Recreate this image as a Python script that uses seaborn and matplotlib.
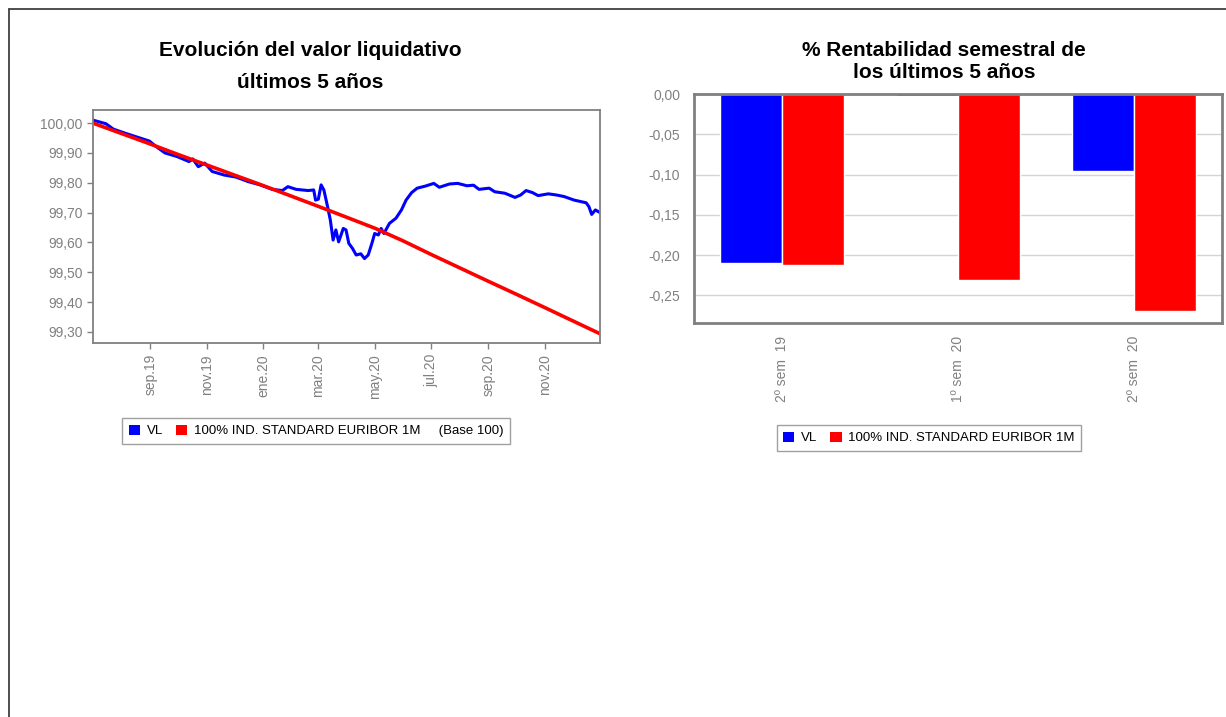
import numpy as np
import pandas as pd
import seaborn as sns
import matplotlib.pyplot as plt
from matplotlib.patches import Patch
from matplotlib.lines import Line2D
from matplotlib.ticker import FuncFormatter, FixedLocator

# valor liquidativo (VL)
vl_dates = ["2019-07-01", "2019-07-15", "2019-07-23", "2019-08-05", "2019-08-18", "2019-08-31",
            "2019-09-08", "2019-09-17", "2019-09-30", "2019-10-13", "2019-10-17", "2019-10-23",
            "2019-10-30", "2019-11-07", "2019-11-20", "2019-12-03", "2019-12-16", "2019-12-29",
            "2020-01-11", "2020-01-22", "2020-01-28", "2020-02-06", "2020-02-19", "2020-02-25",
            "2020-02-27", "2020-03-01", "2020-03-04", "2020-03-07", "2020-03-11", "2020-03-14",
            "2020-03-17", "2020-03-20", "2020-03-23", "2020-03-28", "2020-03-31", "2020-04-03",
            "2020-04-07", "2020-04-11", "2020-04-16", "2020-04-20", "2020-04-24", "2020-04-28",
            "2020-05-01", "2020-05-05", "2020-05-08", "2020-05-11", "2020-05-17", "2020-05-24",
            "2020-05-30", "2020-06-04", "2020-06-10", "2020-06-16", "2020-06-25", "2020-07-04",
            "2020-07-10", "2020-07-21", "2020-07-30", "2020-08-09", "2020-08-16", "2020-08-22",
            "2020-09-02", "2020-09-08", "2020-09-19", "2020-09-30", "2020-10-06", "2020-10-12",
            "2020-10-19", "2020-10-25", "2020-11-05", "2020-11-14", "2020-11-22", "2020-12-03",
            "2020-12-16", "2020-12-19", "2020-12-22", "2020-12-26", "2020-12-31"]
vl_values = [100.010, 99.998, 99.980, 99.966, 99.953, 99.940,
             99.920, 99.900, 99.888, 99.871, 99.880, 99.854,
             99.866, 99.838, 99.826, 99.819, 99.804, 99.793,
             99.778, 99.774, 99.787, 99.778, 99.774, 99.776,
             99.742, 99.745, 99.793, 99.776, 99.720, 99.675,
             99.608, 99.642, 99.602, 99.647, 99.642, 99.597,
             99.580, 99.558, 99.562, 99.546, 99.558, 99.597,
             99.630, 99.625, 99.647, 99.630, 99.664, 99.681,
             99.709, 99.742, 99.767, 99.782, 99.789, 99.798,
             99.785, 99.796, 99.798, 99.790, 99.792, 99.778,
             99.782, 99.770, 99.765, 99.751, 99.759, 99.774,
             99.767, 99.757, 99.763, 99.759, 99.754, 99.742,
             99.733, 99.720, 99.694, 99.709, 99.700]

# indice de referencia (Base 100)
ref_dates = ["2019-07-01", "2019-08-01", "2019-09-01", "2019-10-01", "2019-11-01", "2019-12-01",
             "2020-01-01", "2020-02-01", "2020-03-01", "2020-04-01", "2020-05-01", "2020-06-01",
             "2020-07-01", "2020-08-01", "2020-09-01", "2020-10-01", "2020-11-01", "2020-12-01",
             "2020-12-31"]
ref_values = [100.000, 99.965, 99.930, 99.895, 99.860, 99.826,
              99.791, 99.755, 99.721, 99.684, 99.648, 99.605,
              99.560, 99.515, 99.470, 99.427, 99.382, 99.338,
              99.294]

date_ticks = ["2019-09-01", "2019-11-01", "2020-01-01", "2020-03-01",
              "2020-05-01", "2020-07-01", "2020-09-01", "2020-11-01"]
date_labels = ["sep.19", "nov.19", "ene.20", "mar.20", "may.20", "jul.20", "sep.20", "nov.20"]

semesters = ["2º sem  19", "1º sem  20", "2º sem  20"]
sem_vl = [-0.210, -0.003, -0.096]
sem_ref = [-0.212, -0.231, -0.270]

series = ["VL", "100% IND. STANDARD EURIBOR 1M"]
blue = "#0000ff"
red = "#ff0000"
grey = "#808080"

sns.set_style("white")
plt.rcParams['font.family'] = ['Liberation Sans', 'DejaVu Sans']

fig = plt.figure(figsize=(12.26, 7.17), dpi=100)

# ---- evolucion del valor liquidativo
ax1 = fig.add_axes([93 / 1226, 1 - 343 / 717, 507 / 1226, 233 / 717])
sns.lineplot(x=pd.to_datetime(vl_dates), y=vl_values, ax=ax1, color=blue, linewidth=2.2)
sns.lineplot(x=pd.to_datetime(ref_dates), y=ref_values, ax=ax1, color=red, linewidth=2.6)
ax1.set_xlim(pd.Timestamp("2019-07-01"), pd.Timestamp("2020-12-31"))
ax1.set_ylim(99.263, 100.044)
ax1.set_yticks(np.arange(99.3, 100.01, 0.1))
ax1.yaxis.set_major_formatter(FuncFormatter(lambda v, _: f"{v:.2f}".replace(".", ",")))
ax1.xaxis.set_major_locator(FixedLocator([plt.matplotlib.dates.date2num(pd.Timestamp(d)) for d in date_ticks]))
ax1.set_xticklabels(date_labels)
ax1.tick_params(axis="both", direction="out", length=4, width=1, color=grey,
                labelcolor=grey, labelsize=10, left=True, bottom=True)
ax1.tick_params(axis="x", rotation=90, pad=4)
for sp in ax1.spines.values():
    sp.set_color(grey)
    sp.set_linewidth(1.3)
ax1.set(xlabel="", ylabel="")

# ---- rentabilidad semestral
df = pd.DataFrame({"sem": semesters * 2,
                   "serie": [series[0]] * 3 + [series[1]] * 3,
                   "val": sem_vl + sem_ref})
ax2 = fig.add_axes([694 / 1226, 1 - 323 / 717, 528 / 1226, 229 / 717])
sns.barplot(data=df, x="sem", y="val", hue="serie", palette=[blue, red], saturation=1,
            width=0.7, edgecolor="white", linewidth=1, ax=ax2, legend=False)
ax2.set_ylim(-0.2844, 0)
ax2.set_xlim(-0.5, 2.5)
ax2.set_yticks([0, -0.05, -0.10, -0.15, -0.20, -0.25])
ax2.yaxis.set_major_formatter(FuncFormatter(lambda v, _: f"{v:.2f}".replace(".", ",")))
ax2.yaxis.grid(True, color="#d4d4d4", linewidth=1)
ax2.set_axisbelow(True)
ax2.tick_params(axis="both", length=0, labelcolor=grey, labelsize=10)
ax2.tick_params(axis="y", pad=10)
ax2.tick_params(axis="x", rotation=90, pad=9)
for sp in ax2.spines.values():
    sp.set_color(grey)
    sp.set_linewidth(2)
ax2.set(xlabel="", ylabel="")

# ---- titulos
title_kw = dict(ha="center", va="center", fontsize=15, fontweight="bold", color="black")
fig.text(310 / 1226, 1 - 50 / 717, "Evolución del valor liquidativo", **title_kw)
fig.text(310 / 1226, 1 - 83 / 717, "últimos 5 años", **title_kw)
fig.text(944 / 1226, 1 - 50 / 717, "% Rentabilidad semestral de", **title_kw)
fig.text(944 / 1226, 1 - 73 / 717, "los últimos 5 años", **title_kw)

# ---- leyendas
def make_legend(labels, x, y):
    handles = [Patch(facecolor=blue, edgecolor="none", label=labels[0]),
               Patch(facecolor=red, edgecolor="none", label=labels[1])]
    leg = fig.legend(handles=handles, loc="center", bbox_to_anchor=(x / 1226, 1 - y / 717),
                     ncol=2, frameon=True, fancybox=False, edgecolor="#a0a0a0", framealpha=1,
                     fontsize=9.5, handlelength=0.85, handleheight=0.85, handletextpad=0.5,
                     columnspacing=1.0, borderpad=0.5)
    leg.get_frame().set_linewidth(1)
    for t in leg.get_texts():
        t.set_color("black")
    return leg

make_legend([series[0], series[1] + "     (Base 100)"], 316, 431)
make_legend(series, 929, 438)

# ---- marco
fig.add_artist(Line2D([8.5 / 1226, 1], [1 - 9 / 717] * 2, transform=fig.transFigure,
                      color="#404040", linewidth=1.3))
fig.add_artist(Line2D([8.5 / 1226] * 2, [0, 1 - 9 / 717], transform=fig.transFigure,
                      color="#404040", linewidth=1.3))

plt.savefig("out.png", dpi=100)
